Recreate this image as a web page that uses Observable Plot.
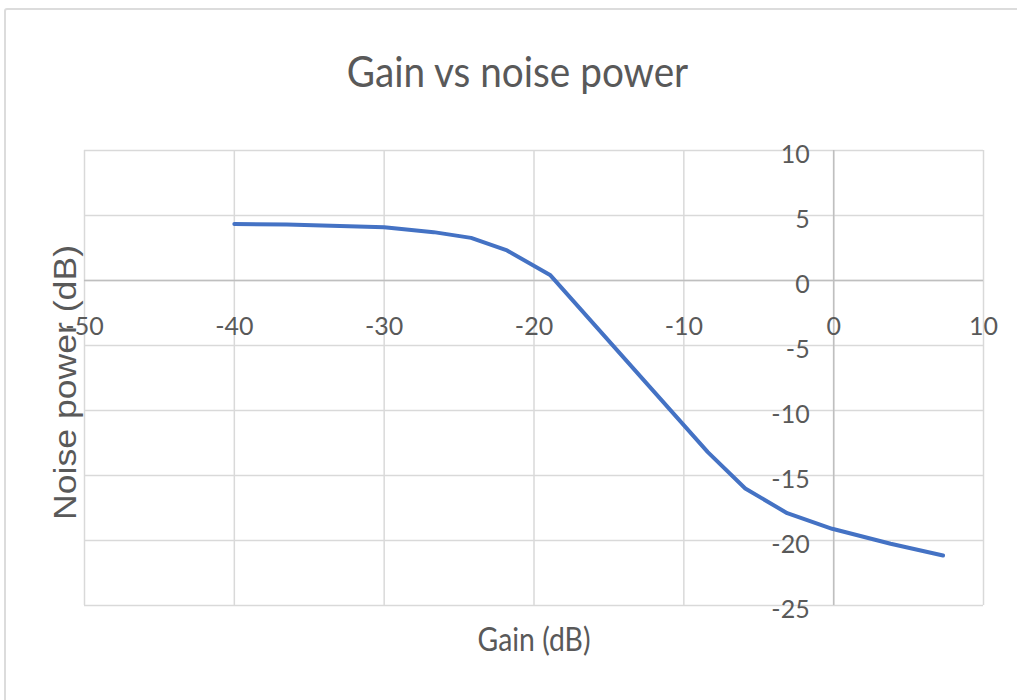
<!DOCTYPE html>
<html>
<head>
<meta charset="utf-8">
<script src="https://cdn.jsdelivr.net/npm/d3@7"></script>
<script src="https://cdn.jsdelivr.net/npm/@observablehq/plot@0.6"></script>
<style>
  html, body { margin: 0; padding: 0; background: #fff; overflow: hidden; width: 1017px; height: 700px; }
  #frame {
    position: absolute; left: 4px; top: 8px; width: 1100px; height: 800px;
    border: 2px solid #dcdcdc; border-radius: 3px; box-sizing: border-box;
  }
  #title {
    position: relative; height: 81px; padding-top: 49px;
    font-family: Lato, "Open Sans", sans-serif; font-size: 43px; line-height: 43px;
    color: #595959; text-align: center; white-space: nowrap;
    transform: translateX(9px) scaleX(0.9);
  }
  #chart { position: relative; }
  #chart svg { display: block; }
</style>
</head>
<body>
<div id="frame"></div>
<div id="title">Gain vs noise power</div>
<div id="chart"></div>
<script>
// Measured noise power at each gain setting
const gain = [-40, -36.5, -30, -26.7, -24.2, -21.8, -18.9, -8.4, -5.9, -3.1, -0.1, 3.8, 7.3];
const noisePower = [4.35, 4.31, 4.1, 3.72, 3.28, 2.31, 0.4, -13.2, -16.0, -17.9, -19.1, -20.25, -21.15];

// Axis ticks
const xTicks = [-50, -40, -30, -20, -10, 0, 10];
const yTicks = [10, 5, 0, -5, -10, -15, -20, -25];

const xTitle = "Gain (dB)";
const yTitle = "Noise power (dB)";

const data = gain.map((g, i) => ({gain: g, noise: noisePower[i]}));

const gridColor = "#d9d9d9";
const axisColor = "#bfbfbf";
const textColor = "#595959";
const tickFont = "Lato, 'Open Sans', sans-serif";

const chart = Plot.plot({
  width: 1017,
  height: 570,
  marginLeft: 84,
  marginRight: 34,
  marginTop: 20,
  marginBottom: 95,
  x: {domain: [-50, 10], axis: null},
  y: {domain: [-25, 10], axis: null},
  style: {background: "transparent", overflow: "visible"},
  marks: [
    // gridlines
    Plot.ruleX(xTicks, {x: d => d, stroke: gridColor, strokeWidth: 1.5}),
    Plot.ruleY(yTicks, {y: d => d, stroke: gridColor, strokeWidth: 1.5}),
    // axes crossing at the origin
    Plot.ruleX([0], {x: d => d, stroke: axisColor, strokeWidth: 1.5}),
    Plot.ruleY([0], {y: d => d, stroke: axisColor, strokeWidth: 1.5}),
    // x tick labels hang below the horizontal axis
    Plot.text(xTicks, {
      x: d => d, y: () => 0, text: d => String(d), dy: 46,
      fill: textColor, fontSize: 25, fontFamily: tickFont, textAnchor: "middle"
    }),
    // y tick labels sit left of the vertical axis
    Plot.text(yTicks, {
      x: () => 0, y: d => d, text: d => String(d), dx: -24, dy: 4,
      fill: textColor, fontSize: 25, fontFamily: tickFont, textAnchor: "end"
    }),
    // the measured curve
    Plot.line(data, {
      x: "gain", y: "noise", stroke: "#4472C4", strokeWidth: 4,
      curve: "linear", strokeLinecap: "round", strokeLinejoin: "round"
    }),
    // axis titles
    Plot.text([xTitle], {
      frameAnchor: "bottom", text: d => d, dy: 34.5,
      textAnchor: "middle", lineAnchor: "middle",
      fill: textColor, fontSize: 33, fontFamily: tickFont
    }),
    Plot.text([yTitle], {
      frameAnchor: "left", text: d => d, rotate: -90, dx: -18, dy: 4.5,
      textAnchor: "middle", lineAnchor: "middle",
      fill: textColor, fontSize: 31, fontFamily: "'Liberation Sans', Arial, sans-serif"
    })
  ]
});

document.getElementById("chart").appendChild(chart);

// fit the axis titles to their set lengths
d3.select(chart).selectAll("text")
  .filter(function() { return this.textContent === xTitle; })
  .attr("textLength", 113).attr("lengthAdjust", "spacingAndGlyphs");
d3.select(chart).selectAll("text")
  .filter(function() { return this.textContent === yTitle; })
  .attr("textLength", 275).attr("lengthAdjust", "spacingAndGlyphs");
</script>
</body>
</html>
